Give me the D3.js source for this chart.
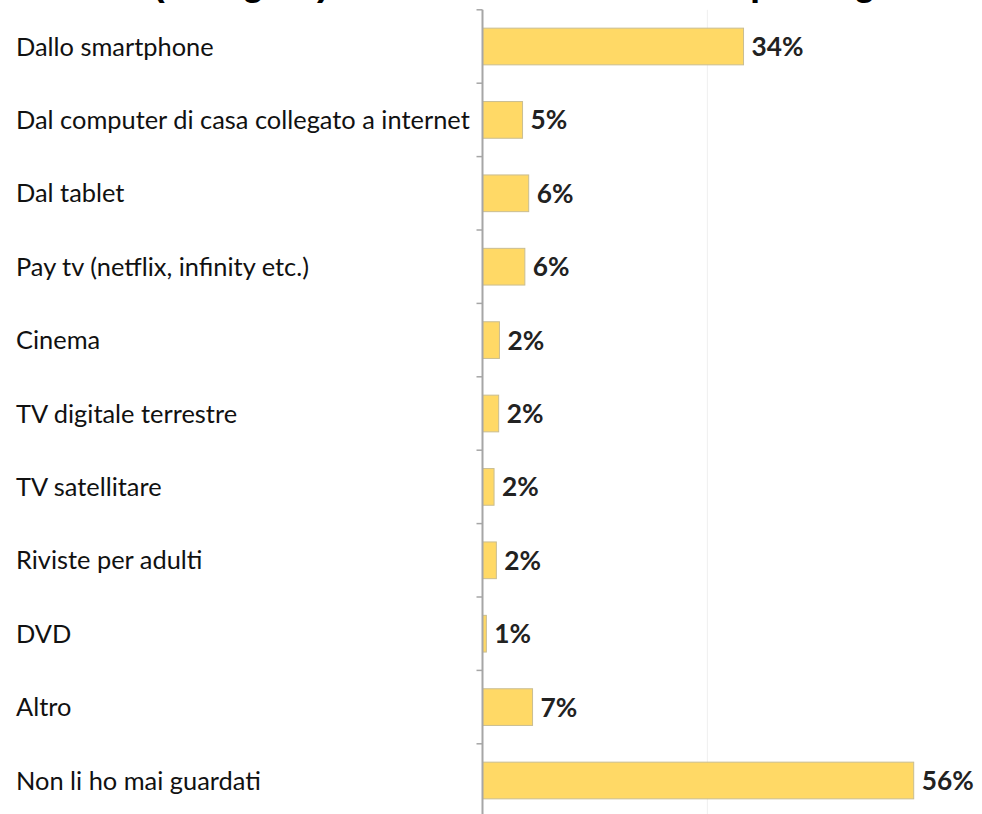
<!DOCTYPE html>
<html>
<head>
<meta charset="utf-8">
<script src="https://cdnjs.cloudflare.com/ajax/libs/d3/7.8.5/d3.min.js"></script>
<style>
  body { margin: 0; background: #fff; }
  svg { display: block; }
</style>
</head>
<body>
<div id="chart"></div>
<script>
const title = "Da dove (di regola) hai visto i film e i video pornografici?";
const categories = [
  "Dallo smartphone",
  "Dal computer di casa collegato a internet",
  "Dal tablet",
  "Pay tv (netflix, infinity etc.)",
  "Cinema",
  "TV digitale terrestre",
  "TV satellitare",
  "Riviste per adulti",
  "DVD",
  "Altro",
  "Non li ho mai guardati",
];
const values = [33.9, 5.2, 6.0, 5.5, 2.2, 2.1, 1.5, 1.8, 0.5, 6.5, 56.0];
const valueLabels = ["34%", "5%", "6%", "6%", "2%", "2%", "2%", "2%", "1%", "7%", "56%"];
const gridValues = [29.2];

const width = 982;
const height = 814;
const axisX = 482.5;

const data = categories.map((c, i) => ({ cat: c, value: values[i], label: valueLabels[i] }));

const svg = d3
  .select("#chart")
  .append("svg")
  .attr("width", width)
  .attr("height", height);

// title is cropped by the top edge, only the descenders show
svg
  .append("text")
  .attr("x", 0)
  .attr("y", -5)
  .style("font-family", "'Liberation Sans', Arial, sans-serif")
  .style("font-weight", "bold")
  .style("font-size", "36.6px")
  .attr("fill", "#000")
  .text(title);

const x = d3.scaleLinear().domain([0, 60]).range([axisX, axisX + 60 * 7.7]);

const y = d3
  .scaleBand()
  .domain(categories)
  .range([9.8, 817.2])
  .paddingInner(0.5)
  .paddingOuter(0.25);

const step = y.step();

// faint gridline
svg
  .selectAll(".grid")
  .data(gridValues)
  .enter()
  .append("line")
  .attr("class", "grid")
  .attr("x1", (d) => x(d))
  .attr("x2", (d) => x(d))
  .attr("y1", y.range()[0])
  .attr("y2", height)
  .attr("stroke", "#efefef")
  .attr("stroke-width", 1);

// bars
svg
  .selectAll(".bar")
  .data(data)
  .enter()
  .append("rect")
  .attr("class", "bar")
  .attr("x", x(0))
  .attr("y", (d) => y(d.cat))
  .attr("width", (d) => x(d.value) - x(0))
  .attr("height", y.bandwidth())
  .attr("fill", "#ffd966")
  .attr("stroke", "#c9bd92")
  .attr("stroke-width", 1);

// axis line + ticks between categories
const tickYs = d3.range(categories.length + 1).map((k) => y.range()[0] + k * step);

svg
  .append("line")
  .attr("x1", axisX)
  .attr("x2", axisX)
  .attr("y1", y.range()[0])
  .attr("y2", height)
  .attr("stroke", "#a6a6a6")
  .attr("stroke-width", 2);

svg
  .selectAll(".tick")
  .data(tickYs)
  .enter()
  .append("line")
  .attr("class", "tick")
  .attr("x1", axisX - 6)
  .attr("x2", axisX)
  .attr("y1", (d) => d)
  .attr("y2", (d) => d)
  .attr("stroke", "#a6a6a6")
  .attr("stroke-width", 1.5);

// category labels
const catLabels = svg
  .selectAll(".cat")
  .data(data)
  .enter()
  .append("text")
  .attr("class", "cat")
  .attr("x", 16)
  .attr("y", (d) => y(d.cat) + y.bandwidth() / 2)
  .attr("dy", "0.36em")
  .style("font-family", "Lato, 'Open Sans', sans-serif")
  .style("font-size", "20px")
  .attr("fill", "#111")
  .text((d) => d.cat);

// fit longest label to the reference width
const longest = d3.max(catLabels.nodes(), (n) => n.getComputedTextLength());
catLabels.style("font-size", (20 * 454) / longest + "px");

// value labels
const valLabels = svg
  .selectAll(".val")
  .data(data)
  .enter()
  .append("text")
  .attr("class", "val")
  .attr("x", (d) => x(d.value) + 8)
  .attr("y", (d) => y(d.cat) + y.bandwidth() / 2)
  .attr("dy", "0.36em")
  .style("font-family", "Lato, 'Open Sans', sans-serif")
  .style("font-weight", "bold")
  .style("font-size", "22px")
  .attr("fill", "#222")
  .text((d) => d.label);

const w56 = valLabels.filter((d) => d.label === "56%").node().getComputedTextLength();
valLabels.style("font-size", (22 * 52) / w56 + "px");
</script>
</body>
</html>
